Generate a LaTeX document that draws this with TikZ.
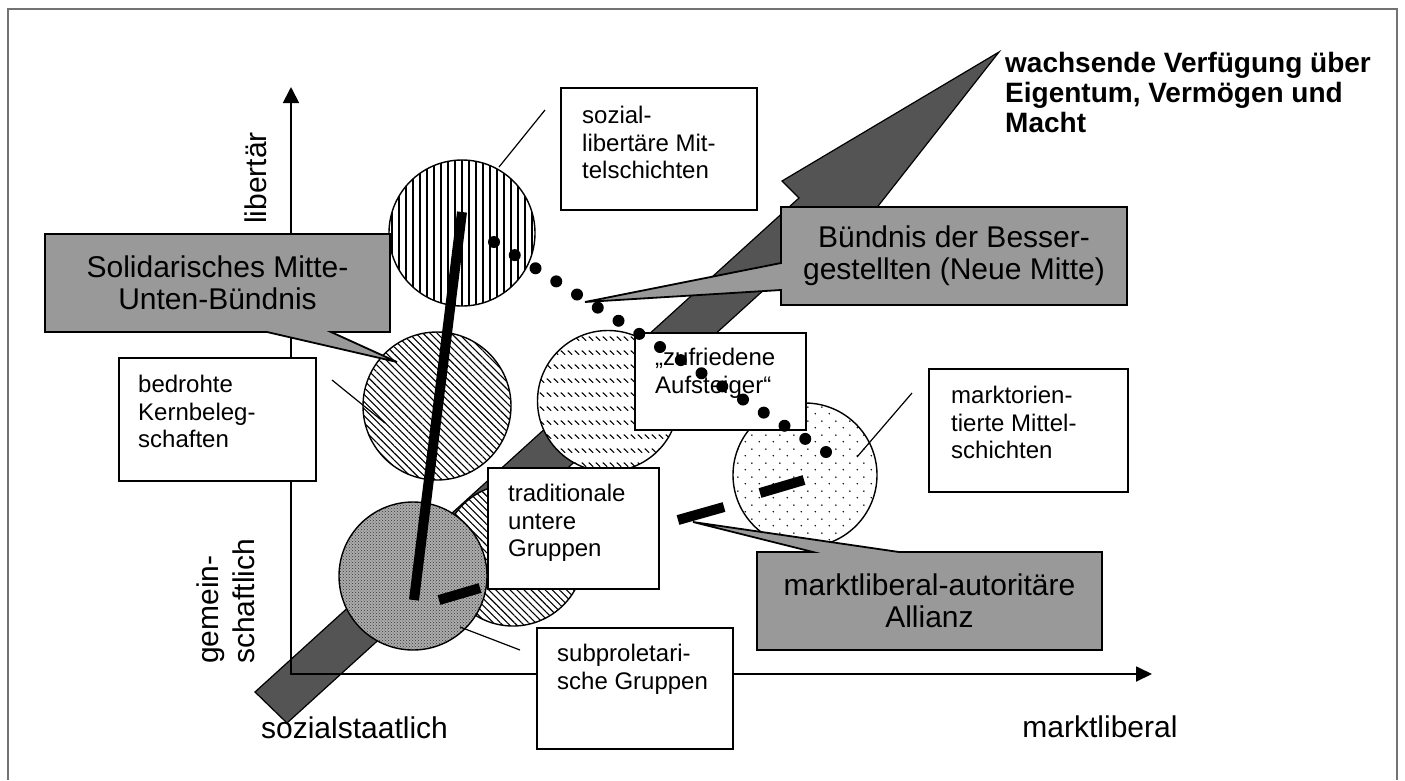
\documentclass[tikz,border=0pt]{standalone}
\usepackage{fontspec}
\setmainfont{Liberation Sans}
\usetikzlibrary{patterns,patterns.meta,arrows.meta,calc}

\pgfdeclarepatternformonly{dashrows}{\pgfqpoint{0pt}{0pt}}{\pgfqpoint{7.3pt}{14pt}}{\pgfqpoint{7.3pt}{14pt}}{%
  \pgfsetlinewidth{1.2pt}\pgfsetroundcap
  \pgfpathmoveto{\pgfqpoint{1pt}{11pt}}\pgfpathlineto{\pgfqpoint{5.3pt}{7pt}}\pgfusepath{stroke}}
\pgfdeclarepatternformonly{sparsedots}{\pgfqpoint{0pt}{0pt}}{\pgfqpoint{14pt}{14pt}}{\pgfqpoint{14pt}{14pt}}{%
  \pgfpathcircle{\pgfqpoint{3.5pt}{3.5pt}}{0.85pt}\pgfpathcircle{\pgfqpoint{10.5pt}{10.5pt}}{0.85pt}\pgfusepath{fill}}

\begin{document}
\begin{tikzpicture}[x=1pt,y=-1pt,
  wbox/.style={draw, line width=1.8pt, fill=white, inner sep=0pt, anchor=north west},
  wtext/.style={font=\fontsize{24}{27.5}\selectfont, align=left, inner sep=0pt, anchor=north west},
  gbox/.style={draw, line width=1.8pt, fill=black!40, line join=miter},
  gtext/.style={font=\fontsize{30}{32}\selectfont, align=center, inner sep=0pt},
  axlabel/.style={font=\fontsize{30}{36}\selectfont, inner sep=0pt},
  group/.style={circle, draw, line width=1.4pt, inner sep=0pt, preaction={fill=white}},
  leader/.style={line width=1.2pt},
  bond/.style={line width=10pt},
  axis/.style={line width=1.8pt},
  dot/.style={fill=black},
  ]
\useasboundingbox[fill=white] (0,0) rectangle (1405,780);

% frame
\draw[black!55, line width=1.5pt] (8,780) -- (8,9) -- (1397,9) -- (1397,780);

% growing arrow (band)
\coordinate (t1) at (255,692);
\coordinate (t2) at (287,723);
\coordinate (rr) at (828.8,230.9);
\coordinate (rb) at (844,249.5);
\coordinate (tip) at (999,52);
\coordinate (lb) at (782,181);
\coordinate (ll) at (799,198);
\draw[fill=black!67, line width=1.2pt, line join=miter] (t1) -- (t2) -- (rr) -- (rb) -- (tip) -- (lb) -- (ll) -- cycle;

% axes
\coordinate (O) at (291,674);
\coordinate (ytip) at (291,87);
\coordinate (xtip) at (1152,674);
\draw[axis, {Triangle[width=16pt,length=16pt]}-{Triangle[width=15pt,length=16pt]}] (ytip) -- (O) -- (xtip);

% group circles
\node[group, minimum size=146, pattern={Lines[angle=90,distance=7pt,line width=1.2pt]}] (c1) at (462,233) {};
\node[group, minimum size=148, pattern={Lines[angle=-45,distance=5pt,line width=1.1pt]}] (c2) at (437,406) {};
\node[group, minimum size=141, pattern=dashrows] (c3) at (608,401) {};
\node[group, minimum size=142, pattern={Lines[angle=-45,distance=5pt,line width=1.1pt]}] (c4) at (513,555) {};
\node[circle, draw, line width=1.4pt, inner sep=0pt, minimum size=148, preaction={fill=black!32}, pattern=crosshatch dots, pattern color=black!80] (c5) at (413,576) {};
\node[group, minimum size=144, pattern=sparsedots] (c6) at (805,475) {};

% solidarity bond
\coordinate (s1) at (462,212);
\coordinate (s2) at (414,600);
\draw[bond] (s1) -- (s2);

% callouts
\draw[gbox] (45,234) -- (390,234) -- (390,332) -- (331,332) -- (397,362) -- (267,332) -- (45,332) -- cycle;
\node[gtext] (solid) at (217.5,283) {Solidarisches Mitte-\\Unten-Bündnis};

\draw[gbox] (781,207) -- (1127,207) -- (1127,305) -- (781,305) -- (781,290) -- (585,302) -- (781,263) -- cycle;
\node[gtext] (besser) at (954,256) {Bündnis der Besser-\\gestellten (Neue Mitte)};

\draw[gbox] (757,552) -- (813,552) -- (693,522) -- (899,552) -- (1102,552) -- (1102,650) -- (757,650) -- cycle;
\node[gtext] (allianz) at (929.5,601) {marktliberal-autoritäre\\Allianz};

% market-authoritarian bars
\coordinate (m1) at (439,600);
\coordinate (m2) at (480,588);
\coordinate (m3) at (678,520);
\coordinate (m4) at (724,507);
\coordinate (m5) at (760,493);
\coordinate (m6) at (804,480);
\draw[bond] (m1) -- (m2);
\draw[bond] (m3) -- (m4);
\draw[bond] (m5) -- (m6);

% white boxes
\node[wbox, minimum width=196, minimum height=122] (bsl) at (560,87) {};
\node[wbox, minimum width=197, minimum height=123] (bbk) at (118,357) {};
\node[wbox, minimum width=171, minimum height=97] (bza) at (634,332) {};
\node[wbox, minimum width=171, minimum height=121] (btu) at (487,467) {};
\node[wbox, minimum width=196, minimum height=121] (bsp) at (536,627) {};
\node[wbox, minimum width=199, minimum height=123] (bmm) at (928,368) {};

\node[wtext] (tsl) at (582,106) {sozial-\\libertäre Mit-\\telschichten};
\node[wtext] (tbk) at (138,375) {bedrohte\\Kernbeleg-\\schaften};
\node[wtext] (tza) at (655,348) {„zufriedene\\Aufsteiger“};
\node[wtext] (ttu) at (508,484) {traditionale\\untere\\Gruppen};
\node[wtext] (tsp) at (557,644) {subproletari-\\sche Gruppen};
\node[wtext] (tmm) at (951,386) {marktorien-\\tierte Mittel-\\schichten};

% leader lines
\coordinate (l1a) at (499,167); \coordinate (l1b) at (545,110);
\coordinate (l2a) at (332,380); \coordinate (l2b) at (385,423);
\coordinate (l3a) at (460,627); \coordinate (l3b) at (520,650);
\coordinate (l4a) at (857,457); \coordinate (l4b) at (912,393);
\draw[leader] (l1a) -- (l1b);
\draw[leader] (l2a) -- (l2b);
\draw[leader] (l3a) -- (l3b);
\draw[leader] (l4a) -- (l4b);

% dotted alliance line
\coordinate (d1) at (494,242);
\coordinate (d2) at (826,452);
\foreach \i in {0,...,16} \fill[dot] ($(d1)!\i/16!(d2)$) circle (6);

% axis labels
\node[axlabel, anchor=base] (sozst) at (354.5,738) {sozialstaatlich};
\node[axlabel, anchor=base] (mlib) at (1100,737) {marktliberal};
\node[axlabel, rotate=90, anchor=base] (lib) at (266,178) {libertär};
\node[axlabel, rotate=90, align=left, anchor=south west] (gem) at (255,664) {gemein-\\schaftlich};

% arrow label
\node[font=\bfseries\fontsize{28}{30}\selectfont, align=left, inner sep=0pt, anchor=north west] (wachs) at (1005,52) {wachsende Verfügung über\\Eigentum, Vermögen und\\Macht};
\end{tikzpicture}
\end{document}
